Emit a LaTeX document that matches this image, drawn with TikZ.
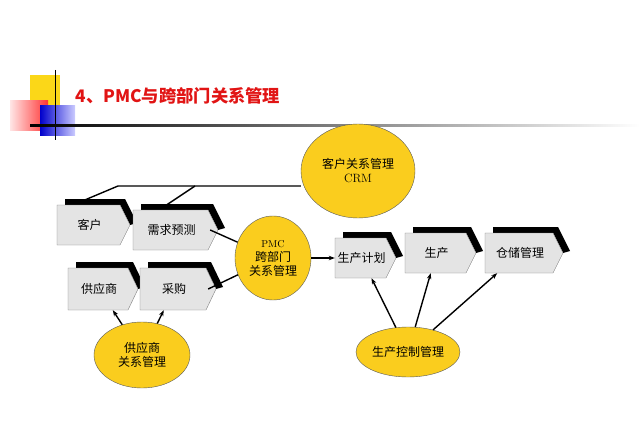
\documentclass[tikz,border=0pt]{standalone}
\usepackage{fontspec}
\newfontfamily\cjk{Noto Sans CJK SC}
\usetikzlibrary{arrows.meta}
\usetikzlibrary{positioning}
\usetikzlibrary{shapes.geometric}
\definecolor{goldfill}{RGB}{250,205,30}
\definecolor{titlered}{RGB}{225,20,20}
\definecolor{boxgray}{RGB}{228,228,228}
% process box: name, left, top, right, bottom, text
\newcommand{\procbox}[6]{%
  \fill[black] (#2+8,#3-6) -- (#4+3,#3-6) -- (#4+15,{(#3+#5)/2-2}) -- (#4+8,{(#3+#5)/2}) -- (#4-2,#3) -- (#2+8,#3) -- cycle;
  \filldraw[fill=boxgray, draw=gray] (#2,#3) -- (#4-2,#3) -- (#4+8,{(#3+#5)/2}) -- (#4-2,#5) -- (#2,#5) -- cycle;
  \node[font=\cjk\large, minimum width={#4-#2}, minimum height={#5-#3}, inner sep=0] (#1) at ({(#2+#4)/2},{(#3+#5)/2}) {#6};%
}
\begin{document}
\begin{tikzpicture}[x=1pt, y=-1pt,
    oval/.style={ellipse, draw=gray!70!black, fill=goldfill, align=center, inner sep=0, font=\cjk\large},
    link/.style={line width=1.4pt},
    arr/.style={line width=1.4pt, -{Stealth[length=6pt]}}
]
\useasboundingbox (0,0) rectangle (640,428);
% title decoration
\fill[goldfill!80!yellow] (30,75) rectangle (60,105);
\shade[left color=red!10, right color=red!80] (10,100) rectangle (48,130);
\shade[left color=blue!80!black, right color=blue!20] (40,105) rectangle (75,135);
\draw[line width=1pt] (55,70) -- (55,140);
\shade[left color=black, right color=white] (30,124) rectangle (640,126);
\node[font=\cjk\bfseries\LARGE, text=titlered, anchor=west] (title) at (72,96) {4、PMC与跨部门关系管理};

% ovals
\node[oval, minimum width=114pt, minimum height=94pt] (crm) at (358,171) {客户关系管理\\{\rmfamily CRM}};
\node[oval, minimum width=76pt, minimum height=84pt] (pmc) at (273,258) {{\rmfamily\normalsize PMC}\\跨部门\\关系管理};
\node[oval, minimum width=96pt, minimum height=66pt] (srm) at (142,355) {供应商\\关系管理};
\node[oval, minimum width=104pt, minimum height=50pt] (pcm) at (408,352) {生产控制管理};

% process boxes
\procbox{cust}{57}{205}{122}{245}{客户}
\procbox{fore}{133}{210}{210}{250}{需求预测}
\procbox{supp}{68}{268}{130}{310}{供应商}
\procbox{purch}{140}{268}{208}{310}{采购}
\procbox{plan}{335}{238}{388}{278}{生产计划}
\procbox{prod}{405}{233}{468}{273}{生产}
\procbox{stor}{485}{233}{555}{273}{仓储管理}

% links
\coordinate (bend) at (118,186);
\draw[link] (crm.west |- 0,186) -- (bend) -- (80,202);
\draw[link] (195,186) -- (165,206);
\draw[link] (pmc) -- (fore.east);
\draw[link] (pmc) -- (purch.east);
\draw[arr] (pmc) -- (plan);
\draw[arr] (srm) -- (supp);
\draw[arr] (srm) -- (purch);
\draw[arr] (pcm) -- (plan);
\draw[arr] (pcm) -- (prod);
\draw[arr] (pcm) -- (stor);
\end{tikzpicture}
\end{document}
